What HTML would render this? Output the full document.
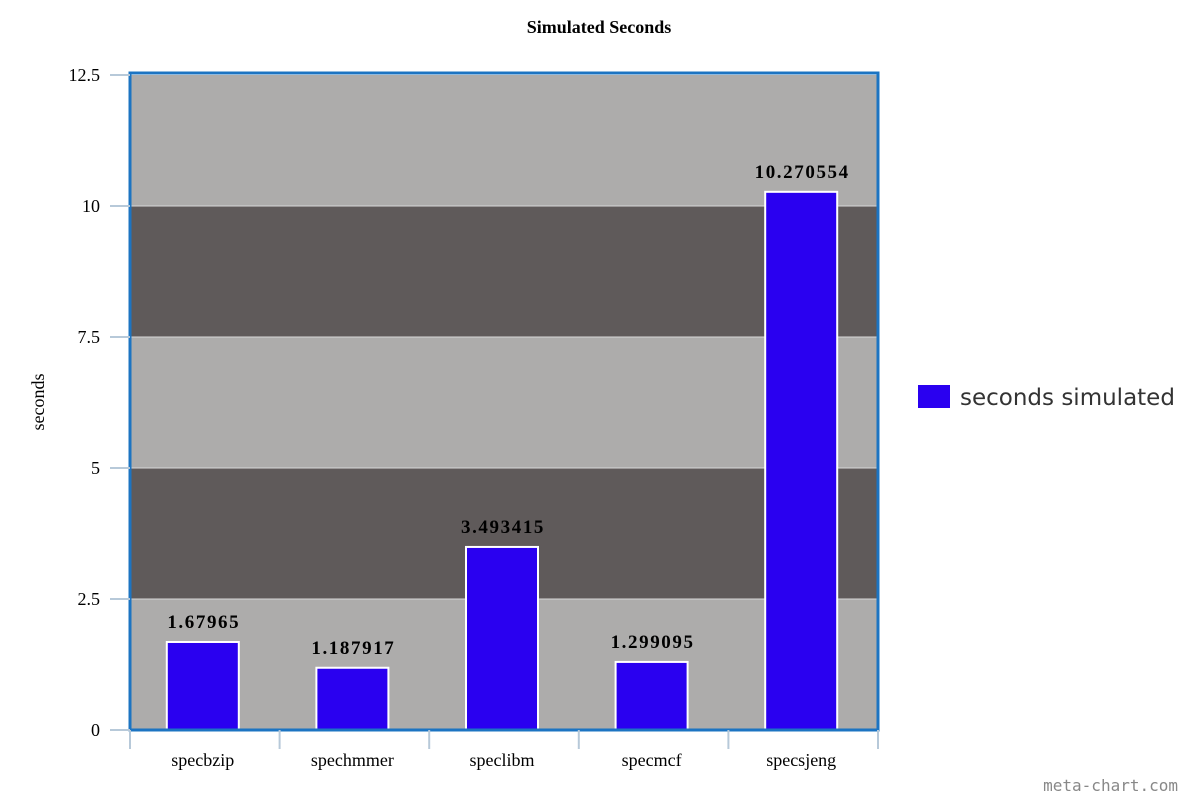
<!DOCTYPE html>
<html><head><meta charset="utf-8"><style>
body{margin:0;background:#fff;width:1200px;height:800px;overflow:hidden}
svg text{font-family:"Liberation Serif",serif}
</style></head><body>
<svg id="chart" width="1200" height="800">
<text x="599" y="33" text-anchor="middle" font-size="18" font-weight="bold">Simulated Seconds</text>
<text transform="translate(44,402) rotate(-90)" text-anchor="middle" font-size="18">seconds</text>
<g id="bands"></g><g id="grid"></g><g id="bars"></g>
<rect x="130" y="73" width="748" height="657" fill="none" stroke="#1c74c2" stroke-width="3"/>
<g id="axes"></g>
<rect x="918" y="385" width="32" height="23" fill="#2a00f0"/>
<text x="960" y="405" font-size="23" style="font-family:'DejaVu Sans',sans-serif" fill="#333">seconds simulated</text>
<text x="1178" y="791" text-anchor="end" font-size="16" style="font-family:'DejaVu Sans Mono',monospace" fill="#888">meta-chart.com</text>
</svg>
<script>
const categories=["specbzip","spechmmer","speclibm","specmcf","specsjeng"];
const values=[1.67965,1.187917,3.493415,1.299095,10.270554];
const labels=["1.67965","1.187917","3.493415","1.299095","10.270554"];
const yTicks=[0,2.5,5,7.5,10,12.5];
const yTickLabels=["0","2.5","5","7.5","10","12.5"];
const NS="http://www.w3.org/2000/svg";
const x0=130,x1=878,yTop=75,yBot=730,yMax=12.5;
const y=v=>yBot-(v/yMax)*(yBot-yTop);
const bw=(x1-x0)/categories.length;
const xc=i=>x0+bw*(i+0.5)-2;
function mk(tag,attrs,parent){const e=document.createElementNS(NS,tag);for(const k in attrs)e.setAttribute(k,attrs[k]);document.getElementById(parent).appendChild(e);return e;}
for(let i=0;i<yTicks.length-1;i++){
 const r=mk('rect',{x:x0,y:y(yTicks[i+1]),width:x1-x0,height:y(yTicks[i])-y(yTicks[i+1]),fill:i%2?'#5f5a5a':'#adacab'},'bands');
 
 
}
yTicks.forEach((t,i)=>{
 if(t>0&&t<yMax){const g=mk('line',{x1:x0,x2:x1,y1:y(t),y2:y(t),stroke:'#d8d8d8','stroke-width':1},'grid');
 
 }
 const tk=mk('line',{x1:110,x2:x0,y1:y(t),y2:y(t),stroke:'#b7c9d9','stroke-width':2},'axes');
 
 
 const tx=mk('text',{x:100,y:y(t)+6,'text-anchor':'end','font-size':18},'axes');
 tx.textContent=yTickLabels[i];
 
 
});
for(let i=0;i<=categories.length;i++){
 const tk=mk('line',{x1:x0+bw*i,x2:x0+bw*i,y1:yBot,y2:yBot+19,stroke:'#b7c9d9','stroke-width':2},'axes');
 
 
}
categories.forEach((c,i)=>{
 const b=mk('rect',{x:xc(i)-36,y:y(values[i]),width:72,height:yBot-y(values[i]),fill:'#2a00f0',stroke:'#fff','stroke-width':2},'bars');
 
 
 const l=mk('text',{x:xc(i)+1,y:y(values[i])-14,'text-anchor':'middle','font-size':19,'font-weight':'bold','letter-spacing':'1.6'},'bars');
 l.textContent=labels[i];
 
 
 const t=mk('text',{x:xc(i),y:766,'text-anchor':'middle','font-size':18},'axes');
 t.textContent=c;
 
 
});
</script>
</body></html>
